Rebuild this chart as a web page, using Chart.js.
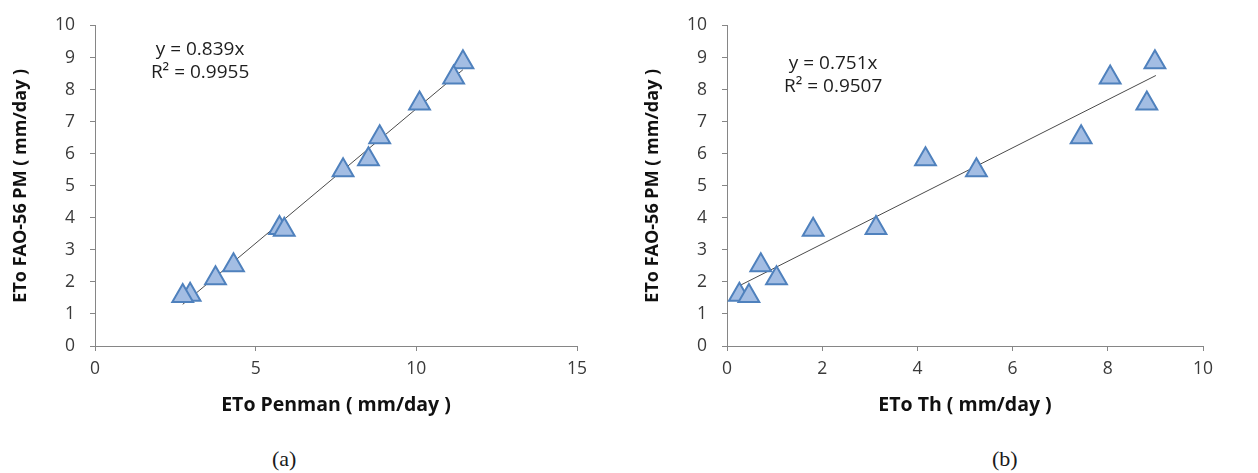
<!DOCTYPE html>
<html>
<head>
<meta charset="utf-8">
<script src="https://cdn.jsdelivr.net/npm/chart.js@4.4.0/dist/chart.umd.min.js"></script>
<style>
  body { margin: 0; background: #fff; width: 1258px; height: 473px; position: relative; overflow: hidden; }
  canvas { position: absolute; top: 0; }
  #chartA { left: 0; }
  #chartB { left: 632px; }
  .caption { position: absolute; top: 446px; font-family: "Liberation Serif", "DejaVu Serif", serif; font-size: 22px; color: #1a1a1a; }
  #capA { left: 272px; }
  #capB { left: 992px; }
</style>
</head>
<body>
<canvas id="chartA" width="600" height="426"></canvas>
<canvas id="chartB" width="626" height="426"></canvas>
<div class="caption" id="capA">(a)</div>
<div class="caption" id="capB">(b)</div>
<script>
// valeurs
const fao56 = [8.85, 8.38, 7.57, 6.51, 5.83, 5.48, 3.68, 3.63, 2.52, 2.11, 1.60, 1.56];
const penman = [11.45, 11.16, 10.1, 8.86, 8.51, 7.72, 5.74, 5.89, 4.31, 3.75, 2.96, 2.73];
const th = [8.99, 8.05, 8.82, 7.44, 4.17, 5.24, 3.13, 1.81, 0.71, 1.04, 0.26, 0.46];

// droites de tendance (extrémités)
const penmanTrendX = [2.73, 11.45];
const penmanTrendY = [1.30, 8.62];
const thTrendX = [0.26, 9.01];
const thTrendY = [1.88, 8.44];

const eqPenman = ['y = 0.839x', 'R² = 0.9955'];
const eqTh = ['y = 0.751x', 'R² = 0.9507'];

const axisGrey = '#868686';
const textFont = '"Open Sans", Lato, sans-serif';

function pairs(xs, ys) {
    return xs.map((x, i) => ({ x: x, y: ys[i] }));
}

// texte de l'équation placé en coordonnées de données
const equationPlugin = {
    id: 'equation',
    afterDatasetsDraw(chart, args, opts) {
        const ctx = chart.ctx;
        const px = chart.scales.x.getPixelForValue(opts.x);
        ctx.save();
        ctx.font = '19px ' + textFont;
        ctx.fillStyle = '#1e1e1e';
        ctx.textAlign = 'center';
        ctx.textBaseline = 'middle';
        opts.lines.forEach((txt, i) => {
            ctx.fillText(txt, px, chart.scales.y.getPixelForValue(opts.y[i]));
        });
        ctx.restore();
    }
};

function makeChart(id, xs, trendX, trendY, xMax, xStep, xTitle, eq, eqX, eqY, padRight) {
    const ctx = document.getElementById(id).getContext('2d');
    return new Chart(ctx, {
        type: 'scatter',
        data: {
            datasets: [{
                data: pairs(trendX, trendY),
                type: 'line',
                showLine: true,
                borderColor: '#4a4a4a',
                borderWidth: 1,
                pointRadius: 0,
                order: 2
            }, {
                data: pairs(xs, fao56),
                pointStyle: 'triangle',
                pointRadius: 12,
                pointHoverRadius: 12,
                backgroundColor: '#a3bde3',
                borderColor: '#4f81bd',
                borderWidth: 2,
                order: 1
            }]
        },
        options: {
            responsive: false,
            animation: false,
            layout: { padding: { left: 0, top: 22, right: padRight, bottom: 0 } },
            plugins: {
                legend: { display: false },
                tooltip: { enabled: false },
                equation: { lines: eq, x: eqX, y: eqY }
            },
            scales: {
                x: {
                    type: 'linear',
                    min: 0,
                    max: xMax,
                    ticks: { stepSize: xStep, color: '#3a3a3a', padding: 8, font: { family: textFont, size: 17.5 } },
                    grid: { drawOnChartArea: false, color: axisGrey, tickLength: 5 },
                    border: { color: axisGrey },
                    title: {
                        display: true,
                        text: xTitle,
                        color: '#111',
                        font: { family: textFont, size: 19.5, weight: 'bold' },
                        padding: { top: 0, bottom: 9 }
                    },
                    afterFit: (scale) => { scale.height = 80; }
                },
                y: {
                    min: 0,
                    max: 10,
                    ticks: { stepSize: 1, color: '#3a3a3a', padding: 15, font: { family: textFont, size: 17.5 } },
                    grid: { drawOnChartArea: false, color: axisGrey, tickLength: 5 },
                    border: { color: axisGrey },
                    title: {
                        display: true,
                        text: 'ETo FAO-56 PM ( mm/day )',
                        color: '#111',
                        font: { family: textFont, size: 18, weight: 'bold' },
                        padding: { top: 10, bottom: 0 }
                    },
                    afterFit: (scale) => { scale.width = 95; }
                }
            }
        },
        plugins: [equationPlugin]
    });
}

makeChart('chartA', penman, penmanTrendX, penmanTrendY, 15, 5, 'ETo Penman ( mm/day )', eqPenman, 3.27, [9.26, 8.52], 23);
makeChart('chartB', th, thTrendX, thTrendY, 10, 2, 'ETo Th ( mm/day )', eqTh, 2.23, [8.80, 8.09], 55);
</script>
</body>
</html>
